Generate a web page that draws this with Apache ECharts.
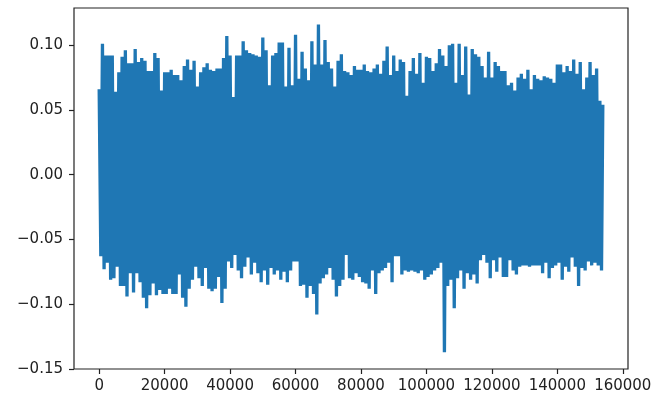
<!DOCTYPE html>
<html>
<head>
<meta charset="utf-8">
<title>waveform</title>
<script src="https://cdn.jsdelivr.net/npm/echarts@6/dist/echarts.min.js"></script>
<style>
    html, body { margin: 0; padding: 0; background: #fff; }
    #chart { width: 665px; height: 406px; }
</style>
</head>
<body>
<div id="chart"></div>
<script>
// envelope, one block per 1000 samples
const blockSize = 1000
const lastSample = 153900
const lastValue = 0.054
const upperPeaks = [
    0.066, 0.101, 0.092, 0.092, 0.092, 0.064, 0.079, 0.091, 0.096, 0.086,
    0.086, 0.097, 0.087, 0.090, 0.088, 0.080, 0.080, 0.094, 0.090, 0.065,
    0.079, 0.079, 0.081, 0.077, 0.077, 0.073, 0.084, 0.089, 0.081, 0.088,
    0.068, 0.079, 0.083, 0.086, 0.081, 0.080, 0.082, 0.082, 0.090, 0.107,
    0.092, 0.060, 0.092, 0.092, 0.103, 0.096, 0.094, 0.093, 0.092, 0.091,
    0.106, 0.096, 0.069, 0.092, 0.094, 0.102, 0.102, 0.068, 0.098, 0.069,
    0.108, 0.074, 0.095, 0.082, 0.073, 0.103, 0.085, 0.116, 0.085, 0.104,
    0.087, 0.082, 0.068, 0.088, 0.093, 0.080, 0.079, 0.077, 0.084, 0.081,
    0.081, 0.085, 0.080, 0.079, 0.082, 0.085, 0.078, 0.088, 0.099, 0.077,
    0.092, 0.080, 0.089, 0.087, 0.061, 0.080, 0.090, 0.078, 0.094, 0.071,
    0.091, 0.090, 0.080, 0.086, 0.097, 0.092, 0.084, 0.100, 0.101, 0.071,
    0.101, 0.077, 0.099, 0.062, 0.097, 0.093, 0.091, 0.084, 0.075, 0.095,
    0.075, 0.087, 0.084, 0.080, 0.080, 0.069, 0.071, 0.065, 0.075, 0.078,
    0.074, 0.081, 0.066, 0.077, 0.074, 0.073, 0.076, 0.075, 0.074, 0.071,
    0.085, 0.085, 0.079, 0.084, 0.080, 0.089, 0.078, 0.087, 0.066, 0.075,
    0.087, 0.077, 0.082, 0.057
]
const lowerPeaks = [
    -0.063, -0.073, -0.068, -0.081, -0.080, -0.071, -0.086, -0.086, -0.094, -0.076,
    -0.091, -0.076, -0.083, -0.095, -0.103, -0.093, -0.084, -0.093, -0.089, -0.092,
    -0.092, -0.088, -0.092, -0.092, -0.077, -0.095, -0.102, -0.088, -0.081, -0.071,
    -0.080, -0.086, -0.072, -0.088, -0.090, -0.088, -0.079, -0.099, -0.088, -0.067,
    -0.072, -0.062, -0.074, -0.080, -0.071, -0.064, -0.077, -0.068, -0.076, -0.083,
    -0.074, -0.085, -0.072, -0.077, -0.074, -0.081, -0.075, -0.083, -0.074, -0.067,
    -0.067, -0.086, -0.085, -0.095, -0.086, -0.092, -0.108, -0.084, -0.080, -0.077,
    -0.072, -0.081, -0.094, -0.086, -0.081, -0.062, -0.080, -0.081, -0.076, -0.079,
    -0.083, -0.084, -0.088, -0.074, -0.092, -0.076, -0.074, -0.072, -0.068, -0.083,
    -0.063, -0.063, -0.077, -0.074, -0.075, -0.074, -0.075, -0.076, -0.074, -0.081,
    -0.079, -0.077, -0.074, -0.072, -0.068, -0.137, -0.086, -0.081, -0.103, -0.080,
    -0.074, -0.088, -0.076, -0.081, -0.077, -0.084, -0.066, -0.062, -0.068, -0.080,
    -0.066, -0.075, -0.064, -0.079, -0.079, -0.066, -0.074, -0.077, -0.071, -0.070,
    -0.070, -0.071, -0.070, -0.070, -0.070, -0.076, -0.068, -0.080, -0.072, -0.070,
    -0.068, -0.081, -0.071, -0.075, -0.064, -0.071, -0.086, -0.072, -0.074, -0.067,
    -0.070, -0.068, -0.070, -0.074
]
const xTicks = [0, 20000, 40000, 60000, 80000, 100000, 120000, 140000, 160000]
const yTicks = [-0.15, -0.10, -0.05, 0.00, 0.05, 0.10]

const wave = []
upperPeaks.forEach((v, i) => {
    wave.push([i * blockSize, v])
    wave.push([i * blockSize + blockSize / 2, lowerPeaks[i]])
})
wave.push([lastSample, lastValue])

const labelStyle = {
    color: "#222",
    fontFamily: "DejaVu Sans",
    fontSize: 15
}

const charts = echarts.init(document.getElementById("chart"))
const option = {
    animation: false,
    grid: {
        left: 74,
        right: 37,
        top: 8,
        bottom: 37,
        show: true,
        borderColor: "#222",
        borderWidth: 1.2,
        containLabel: false
    },
    xAxis: {
        type: "value",
        min: -7695,
        max: 161595,
        axisLine: { show: false, onZero: false },
        splitLine: { show: false },
        axisTick: {
            show: true,
            length: 5,
            customValues: xTicks,
            lineStyle: { color: "#222", width: 1.2 }
        },
        axisLabel: Object.assign({
            margin: 10,
            customValues: xTicks,
            formatter: v => String(v)
        }, labelStyle)
    },
    yAxis: {
        type: "value",
        min: -0.15,
        max: 0.1287,
        axisLine: { show: false, onZero: false },
        splitLine: { show: false },
        axisTick: {
            show: true,
            length: 5,
            customValues: yTicks,
            lineStyle: { color: "#222", width: 1.2 }
        },
        axisLabel: Object.assign({
            margin: 11,
            customValues: yTicks,
            formatter: v => v.toFixed(2).replace("-", "\u2212")
        }, labelStyle)
    },
    series: [
        {
            type: "line",
            showSymbol: false,
            symbol: "none",
            sampling: null,
            lineStyle: { color: "#1f77b4", width: 3.3, join: "bevel" },
            data: wave
        }
    ]
}
charts.setOption(option, true)
</script>
</body>
</html>
